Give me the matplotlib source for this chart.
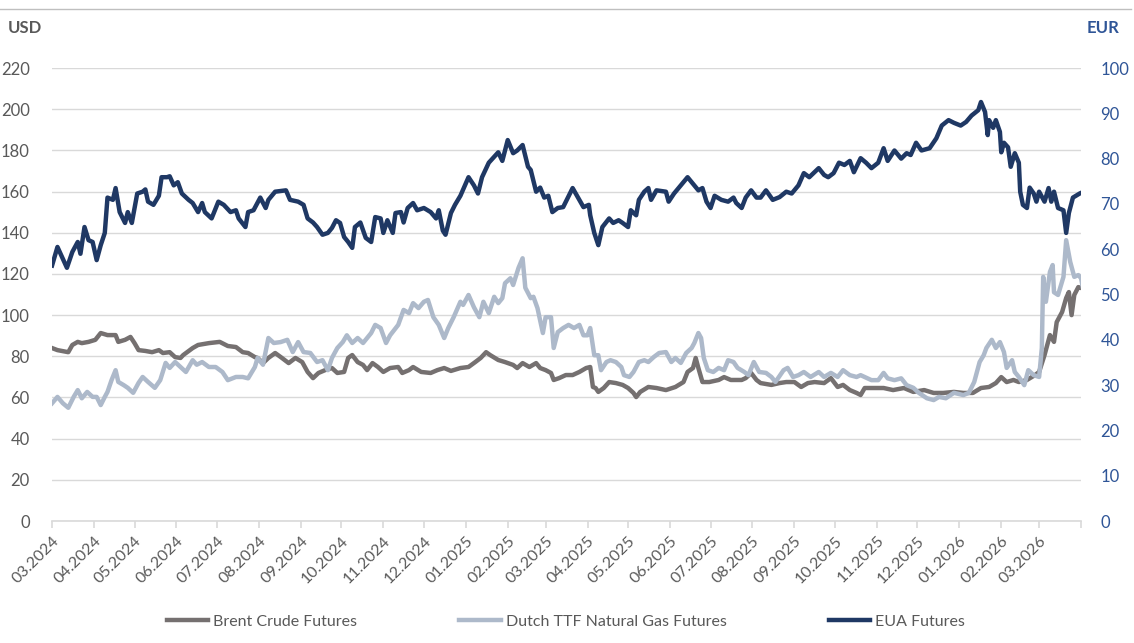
import numpy as np
import pandas as pd
import matplotlib
matplotlib.use("Agg")
import matplotlib.pyplot as plt
import matplotlib.dates as mdates

plt.rcParams["font.family"] = ["Lato", "DejaVu Sans"]

# start of the series, the other dates are day offsets from it
start = pd.Timestamp("2024-03-01")

# Brent crude, USD/bbl (left axis)
brent_days = [0, 4, 12, 15, 19, 22, 27, 32, 36, 41, 47, 49, 54, 58, 61, 64, 69, 74, 79, 82,
              87, 91, 95, 97, 104, 108, 116, 124, 130, 136, 141, 145, 150, 152, 156, 160, 165, 170, 175, 180,
              185, 189, 193, 197, 202, 207, 211, 216, 219, 222, 226, 230, 233, 237, 241, 245, 250, 256, 259, 264,
              267, 273, 280, 285, 290, 295, 302, 308, 313, 317, 321, 324, 330, 335, 341, 344, 348, 353, 358, 361,
              365, 369, 371, 375, 380, 385, 390, 395, 398, 400, 402, 404, 408, 412, 417, 422, 426, 430, 432, 435,
              441, 447, 454, 461, 467, 470, 474, 476, 478, 481, 486, 493, 497, 502, 510, 513, 517, 521, 524, 532,
              538, 543, 549, 554, 559, 564, 571, 576, 581, 585, 590, 595, 598, 601, 607, 615, 622, 630, 637, 645,
              652, 659, 667, 674, 681, 687, 693, 698, 702, 706, 711, 715, 721, 727, 730, 734, 738, 741, 743, 747,
              750, 752, 754, 756, 759, 761]
brent = [84, 83, 82, 85.5, 87, 86.4, 87, 88, 91.3, 90.3, 90.3, 87, 88, 89.4, 86.4, 83, 82.6, 82, 83, 81.6,
         82, 79.6, 79.2, 80.6, 84, 85.5, 86.4, 87, 85, 84.5, 82, 81.6, 79.6, 79.2, 76.7, 79.2, 81.6, 79.2, 76.7, 79.2,
         77.2, 72.4, 69.4, 71.9, 73.3, 74.3, 71.9, 72.4, 79.2, 80.6, 77.2, 75.8, 73.3, 76.7, 74.8, 72.4, 74.3, 74.8, 71.9, 73.3,
         74.8, 72.4, 71.9, 73.3, 74.3, 72.9, 74.3, 74.8, 77.2, 79.2, 82, 80.6, 78.2, 77.2, 75.8, 74.3, 76.7, 74.8, 76.7, 74.3,
         73.3, 71.9, 68.5, 69.4, 70.9, 70.9, 72.4, 74.3, 74.8, 65.1, 64.6, 62.7, 64.6, 67.5, 67, 66.1, 64.6, 62.2, 60.2, 62.7,
         65.1, 64.6, 63.6, 65.1, 67.5, 72.4, 74.3, 79.2, 74.3, 67.5, 67.5, 68.5, 69.9, 68.5, 68.5, 69.4, 71.9, 68.5, 67, 66.1,
         67, 67.5, 67.5, 65.1, 67, 67.5, 67, 69.4, 65.1, 66.1, 63.6, 62.2, 61.2, 64.6, 64.6, 64.6, 63.6, 64.6, 62.7, 63.6,
         62.2, 62.2, 62.7, 62.2, 62.2, 64.6, 65.1, 67, 69.9, 67.5, 68.5, 67.5, 68.5, 70.9, 72.4, 80.6, 90.3, 87, 96.6, 101.5,
         108.3, 111.2, 100, 109.8, 113.6, 113.2]

# Dutch TTF natural gas, EUR/MWh (right axis)
ttf_days = [0, 4, 8, 12, 16, 19, 22, 26, 30, 33, 36, 39, 41, 44, 47, 49, 53, 56, 60, 64,
            67, 71, 76, 80, 84, 87, 91, 95, 99, 104, 107, 111, 116, 121, 126, 130, 136, 141, 145, 150,
            152, 156, 160, 164, 169, 174, 178, 182, 186, 191, 196, 200, 204, 207, 211, 215, 218, 222, 226, 230,
            236, 239, 243, 247, 250, 256, 260, 264, 267, 271, 275, 278, 282, 286, 290, 293, 297, 302, 304, 308,
            312, 316, 319, 323, 327, 330, 333, 335, 339, 341, 345, 348, 350, 354, 356, 359, 363, 365, 369, 371,
            374, 378, 382, 386, 390, 393, 396, 398, 401, 404, 406, 410, 413, 417, 421, 423, 427, 430, 434, 438,
            441, 445, 449, 454, 458, 461, 465, 469, 473, 475, 478, 480, 482, 485, 489, 493, 497, 500, 504, 507,
            512, 515, 519, 523, 528, 532, 535, 541, 544, 548, 552, 556, 561, 567, 571, 576, 581, 585, 590, 595,
            598, 606, 611, 615, 618, 623, 628, 632, 637, 641, 647, 652, 656, 661, 667, 674, 678, 682, 686, 689,
            691, 695, 698, 701, 704, 706, 710, 712, 715, 719, 722, 726, 730, 732, 733, 735, 738, 740, 741, 744,
            748, 750, 753, 756, 759, 761, 763]
ttf = [26.0, 27.4, 26.0, 25.0, 27.4, 28.9, 27.1, 28.5, 27.4, 27.4, 25.6, 27.4, 28.5, 31.1, 33.3, 30.7, 30.0, 29.4, 28.3, 30.5,
       31.8, 30.7, 29.4, 31.1, 34.9, 33.8, 35.1, 34.0, 32.9, 35.5, 34.5, 35.1, 34.0, 34.0, 32.9, 31.1, 31.8, 31.8, 31.5, 34.0,
       36.0, 34.5, 40.4, 39.3, 39.5, 40.0, 37.3, 39.5, 37.3, 37.1, 35.1, 35.5, 33.3, 36.0, 38.2, 39.5, 41.0, 39.3, 40.4, 39.3,
       41.5, 43.3, 42.6, 39.3, 41.0, 43.3, 46.6, 45.9, 48.1, 47.0, 48.4, 48.8, 45.0, 43.3, 40.4, 42.6, 45.0, 48.4, 47.7, 49.9,
       47.2, 45.0, 48.4, 45.9, 49.5, 48.1, 49.2, 52.5, 53.6, 52.1, 55.9, 58.0, 51.5, 49.2, 49.5, 47.0, 41.5, 45.0, 45.0, 38.2,
       41.7, 42.6, 43.3, 42.6, 43.3, 41.0, 41.0, 42.6, 36.6, 36.6, 33.3, 35.1, 35.5, 35.1, 34.0, 32.2, 31.8, 32.9, 35.1, 35.5,
       35.1, 36.2, 37.1, 37.3, 35.1, 36.0, 34.9, 37.1, 38.2, 39.3, 41.5, 40.4, 36.0, 33.3, 32.9, 33.8, 33.3, 35.5, 35.1, 33.8,
       32.9, 32.2, 35.1, 32.9, 32.7, 31.8, 30.7, 33.3, 33.8, 31.8, 32.2, 32.9, 31.8, 32.9, 31.8, 32.7, 31.8, 33.3, 32.2, 31.8,
       32.2, 31.1, 31.1, 32.7, 31.5, 31.1, 31.5, 30.0, 29.4, 28.3, 27.1, 26.7, 27.4, 27.1, 28.3, 27.8, 28.3, 30.7, 35.1, 36.6,
       38.2, 40.0, 38.2, 39.5, 37.3, 33.8, 35.5, 32.9, 31.8, 30.0, 33.3, 32.2, 31.8, 38.2, 53.9, 48.4, 55.0, 56.5, 50.5, 49.9,
       53.9, 62.0, 57.2, 53.9, 54.3, 53.6, 50.5]

# EUA carbon futures, EUR/t (right axis)
eua_days = [0, 4, 11, 15, 19, 21, 24, 27, 30, 33, 36, 39, 41, 45, 47, 50, 54, 56, 59, 63,
            67, 69, 71, 75, 79, 81, 85, 87, 90, 93, 96, 101, 104, 108, 111, 113, 118, 123, 127, 132,
            136, 138, 143, 145, 149, 154, 158, 160, 165, 173, 176, 182, 186, 189, 193, 196, 200, 204, 207, 210,
            213, 216, 219, 222, 224, 228, 232, 236, 239, 243, 245, 248, 252, 254, 258, 260, 263, 267, 270, 275,
            280, 284, 286, 289, 291, 295, 298, 302, 308, 312, 315, 318, 323, 327, 330, 333, 337, 341, 344, 348,
            352, 354, 358, 361, 364, 367, 370, 374, 378, 380, 385, 389, 393, 397, 398, 401, 404, 407, 412, 415,
            419, 422, 426, 428, 432, 434, 438, 441, 443, 447, 454, 456, 460, 465, 470, 475, 478, 481, 484, 487,
            490, 495, 500, 504, 506, 510, 513, 517, 521, 524, 528, 533, 538, 543, 547, 552, 556, 560, 567, 571,
            574, 578, 582, 586, 590, 593, 598, 602, 606, 611, 615, 618, 623, 628, 632, 635, 639, 643, 649, 654,
            658, 663, 667, 672, 676, 680, 685, 687, 690, 692, 693, 696, 698, 701, 702, 704, 707, 709, 712, 715,
            716, 718, 721, 723, 726, 728, 730, 734, 737, 739, 741, 744, 748, 750, 752, 755, 760, 763]
eua = [56.4, 60.5, 55.9, 59.4, 61.6, 59.0, 64.9, 62.0, 61.6, 57.6, 60.9, 63.6, 71.4, 70.9, 73.5, 68.2, 65.8, 68.2, 65.8, 72.3,
       72.7, 73.2, 70.5, 69.8, 71.8, 75.9, 75.9, 76.1, 74.1, 74.8, 72.3, 70.9, 70.2, 68.2, 70.2, 68.2, 66.8, 70.5, 69.8, 68.2,
       68.6, 66.8, 64.9, 68.2, 68.6, 71.4, 69.1, 70.9, 72.7, 73.0, 70.9, 70.5, 69.8, 66.8, 65.9, 64.9, 63.2, 63.6, 64.7, 66.4,
       65.8, 62.7, 61.6, 60.3, 64.9, 65.9, 62.5, 61.6, 67.1, 66.8, 63.6, 66.4, 63.6, 68.0, 68.2, 65.9, 69.1, 70.2, 68.6, 69.1,
       68.2, 66.8, 68.6, 64.1, 63.2, 68.0, 69.8, 71.8, 75.9, 74.1, 72.3, 75.9, 79.1, 80.4, 81.4, 79.5, 84.1, 81.2, 81.8, 83.0,
       78.2, 77.5, 72.7, 73.6, 71.4, 71.8, 68.2, 69.1, 69.3, 70.5, 73.5, 71.4, 69.3, 69.8, 67.5, 63.6, 60.9, 64.9, 66.8, 65.8,
       66.4, 65.8, 64.9, 68.6, 67.5, 70.9, 72.7, 73.5, 70.9, 73.0, 72.7, 70.5, 72.3, 74.1, 75.9, 74.1, 73.0, 73.5, 70.5, 69.1,
       71.8, 70.9, 70.5, 71.4, 70.2, 69.1, 71.4, 73.0, 71.4, 71.4, 73.0, 70.9, 71.5, 72.7, 72.3, 74.1, 76.8, 75.9, 77.9, 76.4,
       75.9, 76.8, 79.1, 78.6, 79.5, 77.0, 80.1, 79.1, 77.9, 79.1, 82.3, 79.5, 81.8, 80.0, 81.2, 80.8, 83.5, 81.8, 82.3, 84.5,
       87.3, 88.5, 87.9, 87.3, 88.1, 89.5, 90.7, 92.5, 90.3, 85.2, 88.5, 86.8, 88.5, 85.9, 81.4, 83.5, 82.5, 78.2, 81.2, 79.1,
       72.7, 69.8, 69.1, 73.6, 72.3, 70.5, 72.7, 70.5, 73.5, 70.5, 72.7, 69.1, 68.6, 63.6, 68.0, 71.4, 72.3, 72.7]

month_labels = ["03.2024", "04.2024", "05.2024", "06.2024", "07.2024", "08.2024", "09.2024", "10.2024",
                "11.2024", "12.2024", "01.2025", "02.2025", "03.2025", "04.2025", "05.2025", "06.2025",
                "07.2025", "08.2025", "09.2025", "10.2025", "11.2025", "12.2025", "01.2026", "02.2026",
                "03.2026"]


def to_dates(days):
    return start + pd.to_timedelta(days, unit="D")


gray_txt = "#595959"
blue_txt = "#2f5597"
c_brent = "#757070"
c_ttf = "#adb9ca"
c_eua = "#1f3864"

fig = plt.figure(figsize=(11.34, 6.43), dpi=100)
ax = fig.add_axes([0.0459, 0.1897, 0.9074, 0.7045])
ax2 = ax.twinx()

lw = 3.2
l1, = ax.plot(to_dates(brent_days), brent, color=c_brent, lw=lw, solid_joinstyle="round",
              label="Brent Crude Futures")
l2, = ax2.plot(to_dates(ttf_days), ttf, color=c_ttf, lw=lw, solid_joinstyle="round",
               label="Dutch TTF Natural Gas Futures")
l3, = ax2.plot(to_dates(eua_days), eua, color=c_eua, lw=lw, solid_joinstyle="round",
               label="EUA Futures")

ax.set_ylim(0, 220)
ax.set_yticks(range(0, 221, 20))
ax2.set_ylim(0, 100)
ax2.set_yticks(range(0, 101, 10))

tick_dates = pd.date_range("2024-03-01", "2026-04-01", freq="MS")
ax.set_xlim(tick_dates[0], tick_dates[-1])
ax.set_xticks(tick_dates)
ax.set_xticklabels(month_labels + [""], rotation=45, ha="right", va="top",
                   rotation_mode="anchor", fontsize=11.5, color=gray_txt)

ax.grid(axis="y", color="#d9d9d9", lw=1)
ax.set_axisbelow(True)
for s in ["top", "left", "right"]:
    ax.spines[s].set_visible(False)
for s in ax2.spines.values():
    s.set_visible(False)
ax.spines["bottom"].set_color("#d9d9d9")
ax.spines["bottom"].set_linewidth(1.2)

ax.tick_params(axis="x", length=5, width=1.2, color="#d9d9d9", pad=4)
ax.tick_params(axis="y", length=0, pad=16, labelsize=12, labelcolor=gray_txt)
ax2.tick_params(axis="y", length=0, pad=14, labelsize=12, labelcolor=blue_txt)

fig.text(0.007, 0.957, "USD", fontsize=12, fontweight="bold", color=gray_txt, va="center")
fig.text(0.958, 0.957, "EUR", fontsize=12, fontweight="bold", color=blue_txt, va="center")

# thin rule along the top edge
fig.add_artist(plt.Line2D([0, 0.997], [0.986, 0.986], color="#bfbfbf", lw=1))

fig.legend(handles=[l1, l2, l3], loc="center", bbox_to_anchor=(0.499, 0.033), ncol=3,
           frameon=False, fontsize=11.5, labelcolor=gray_txt, handlelength=2.6,
           handletextpad=0.3, columnspacing=6.4)

fig.savefig("out.png", dpi=100)
